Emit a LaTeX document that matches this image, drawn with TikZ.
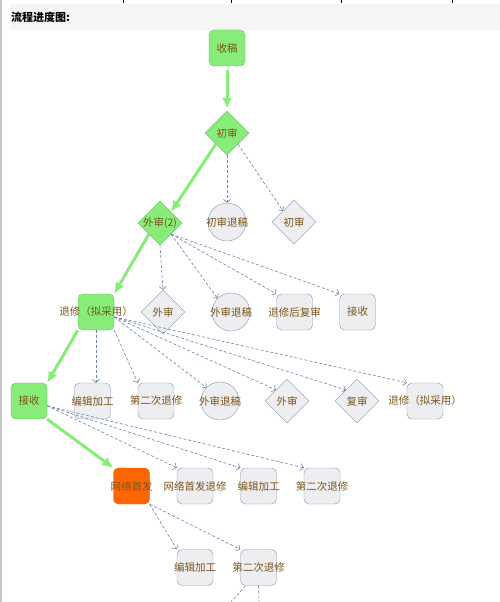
\documentclass[tikz,border=0pt]{standalone}
\usepackage{fontspec}
\setmainfont{Noto Sans CJK SC}
\usepackage{tikz}
\usetikzlibrary{arrows,arrows.meta,shapes.geometric,positioning}

\definecolor{boxfill}{RGB}{238,238,240}
\definecolor{boxline}{RGB}{130,148,185}
\definecolor{depline}{RGB}{110,128,168}
\definecolor{gfill}{RGB}{136,236,120}
\definecolor{gline}{RGB}{100,180,100}
\definecolor{ofill}{RGB}{255,102,0}
\definecolor{oline}{RGB}{220,90,10}
\definecolor{txt}{RGB}{125,85,30}
\definecolor{hdr}{RGB}{245,245,245}

\newcommand{\lbl}[1]{\makebox[0pt]{#1}}

\begin{document}
\begin{tikzpicture}[x=1pt, y=-1pt, node distance=63.5pt, font=\fontsize{10.5}{12}\selectfont]
			\tikzstyle{box} = [draw=boxline, fill=boxfill, rounded corners=5pt, minimum size=36pt, inner sep=0pt, text=txt]
			\tikzstyle{gbox} = [box, draw=gline, fill=gfill]
			\tikzstyle{obox} = [box, draw=oline, fill=ofill]
			\tikzstyle{dia} = [draw=boxline, fill=boxfill, diamond, minimum size=44pt, inner sep=0pt, text=txt]
			\tikzstyle{gdia} = [dia, draw=gline, fill=gfill]
			\tikzstyle{disc} = [draw=boxline, fill=boxfill, circle, minimum size=38pt, inner sep=0pt, text=txt]
			\tikzstyle{flow} = [-{Latex[length=11pt,width=10pt]}, line width=3pt, gfill]
			\tikzstyle{dep} = [-{Straight Barb[length=3pt,width=7pt]}, depline, line width=0.6pt, dash pattern=on 3pt off 2pt]
			\useasboundingbox (0,0) rectangle (500,602);
			% page frame and header
			\draw[gray!45, line width=2pt] (1,0) -- (1,602);
			\foreach \x in {123,231,341,452} \draw (\x,0) -- (\x,3);
			\fill[hdr] (10,4) rectangle (500,30);
			\node[anchor=west, inner sep=0pt, font=\fontsize{11}{12}\selectfont\bfseries] (title) at (11,17) {流程进度图:};
			\begin{scope}
			\path
			node[gbox] (shougao) at (227,48) {\lbl{收稿}}
			node[gdia] (chushen) at (227,133) {\lbl{初审}}
			node[disc] (chutui) at (227,222) {\lbl{初审退稿}}
			node[dia] (chushenb) at (294,222) {\lbl{初审}}
			node[gdia] (waishen) at (160,223) {\lbl{外审(2)}}
			node[gbox] (tuixiu) at (96,312) {\lbl{退修（拟采用）}}
			node[dia] (waishenb) at (163,312) {\lbl{外审}}
			node[disc] (waitui) at (231,312) {\lbl{外审退稿}}
			node[box] (fushen) at (294.5,312) {\lbl{退修后复审}}
			node[box] (jieshou) at (357.5,312) {\lbl{接收}}
			node[gbox] (jieshoub) at (29,401) {\lbl{接收}}
			node[box] (bianji) at (92.5,401) {\lbl{编辑加工}}
			node[box] (ertui) at (156,401) {\lbl{第二次退修}}
			node[disc] (waituib) at (220,401) {\lbl{外审退稿}}
			node[dia] (waishenc) at (287,401) {\lbl{外审}}
			node[dia] (fushenb) at (357,401) {\lbl{复审}}
			node[box] (tuixiub) at (425,401) {\lbl{退修（拟采用）}}
			node[obox] (shoufa) at (131.5,486) {\lbl{网络首发}}
			node[box, right of=shoufa] (shoufatui) {\lbl{网络首发退修}}
			node[box, right of=shoufatui] (bianjib) {\lbl{编辑加工}}
			node[box, right of=bianjib] (ertuib) {\lbl{第二次退修}}
			node[box] (bianjic) at (195,567.5) {\lbl{编辑加工}}
			node[box, right of=bianjic] (ertuic) {\lbl{第二次退修}}
			coordinate (outa) at (231,602)
			coordinate (outb) at (259,602)
			(shougao.south) edge[flow, shorten <=4pt, shorten >=2pt] (chushen.north)
			(chushen.south west) edge[flow] (waishen.north east)
			(waishen.south west) edge[flow] (tuixiu.north east)
			(tuixiu.south west) edge[flow] (jieshoub.north east)
			(jieshoub.south east) edge[flow] (shoufa.north west)
			(chushen.south) edge[dep] (chutui.north)
			(chushen.south east) edge[dep] (chushenb.north west)
			(waishen.south) edge[dep] (waishenb.north)
			(waishen.south east) edge[dep] (waitui.north west)
			(waishen.south east) edge[dep] (fushen.north west)
			(waishen.south east) edge[dep] (jieshou.north west)
			(tuixiu.south) edge[dep] (tuixiu.south |- bianji.north)
			(tuixiu.south east) edge[dep] (ertui.north west)
			(tuixiu.-15) edge[dep] (waituib.north west)
			(tuixiu.-15) edge[dep] (waishenc.north west)
			(tuixiu.-15) edge[dep] (fushenb.north west)
			(tuixiu.-15) edge[dep] (tuixiub.north west)
			(jieshoub.-15) edge[dep] (shoufatui.north west)
			(jieshoub.-15) edge[dep] (bianjib.north west)
			(jieshoub.-15) edge[dep] (ertuib.north west)
			(shoufa.south east) edge[dep] (bianjic.north west)
			(shoufa.south east) edge[dep] (ertuic.north west)
			([xshift=-13pt]ertuic.south) edge[dep, -] (outa)
			(ertuic.south) edge[dep, -] (outb)
			;
			\end{scope}
\end{tikzpicture}
\end{document}
